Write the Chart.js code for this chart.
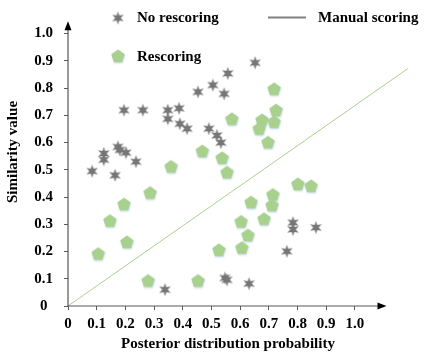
<!DOCTYPE html>
<html>
<head>
<meta charset="utf-8">
<script src="https://cdn.jsdelivr.net/npm/chart.js@4"></script>
<style>
  html, body { margin: 0; padding: 0; background: #fff; }
  #wrap { width: 443px; height: 355px; }
</style>
</head>
<body>
<div id="wrap"><canvas id="chart" width="443" height="355"></canvas></div>
<script>
// --------------------
// DATA
// --------------------
const seriesNames = ["No rescoring", "Rescoring", "Manual scoring"];
const xTitle = "Posterior distribution probability";
const yTitle = "Similarity value";

const xTicks = [0, 0.1, 0.2, 0.3, 0.4, 0.5, 0.6, 0.7, 0.8, 0.9, 1.0];
const xTickLabels = ["0", "0.1", "0.2", "0.3", "0.4", "0.5", "0.6", "0.7", "0.8", "0.9", "1.0"];
const yTicks = [0, 0.1, 0.2, 0.3, 0.4, 0.5, 0.6, 0.7, 0.8, 0.9, 1.0];
const yTickLabels = ["0", "0.1", "0.2", "0.3", "0.4", "0.5", "0.6", "0.7", "0.8", "0.9", "1.0"];

const noRescoreX = [0.084, 0.125, 0.125, 0.164, 0.174, 0.181, 0.202, 0.237, 0.195, 0.261,
  0.348, 0.348, 0.387, 0.390, 0.415, 0.453, 0.505, 0.652, 0.557, 0.544,
  0.491, 0.519, 0.533, 0.338, 0.547, 0.554, 0.631, 0.763, 0.784, 0.784, 0.864];
const noRescoreY = [0.495, 0.560, 0.537, 0.480, 0.584, 0.573, 0.563, 0.530, 0.719, 0.719,
  0.719, 0.687, 0.726, 0.669, 0.651, 0.786, 0.811, 0.893, 0.854, 0.779,
  0.651, 0.626, 0.600, 0.060, 0.103, 0.096, 0.082, 0.201, 0.306, 0.281, 0.288];

const rescoreX = [0.105, 0.146, 0.195, 0.205, 0.286, 0.279, 0.359, 0.453, 0.526, 0.468,
  0.537, 0.554, 0.571, 0.718, 0.725, 0.676, 0.718, 0.666, 0.697, 0.801,
  0.847, 0.714, 0.638, 0.711, 0.603, 0.683, 0.627, 0.606];
const rescoreY = [0.192, 0.313, 0.374, 0.235, 0.416, 0.093, 0.512, 0.093, 0.206, 0.569,
  0.544, 0.491, 0.687, 0.797, 0.719, 0.683, 0.676, 0.651, 0.601, 0.448,
  0.441, 0.409, 0.381, 0.370, 0.310, 0.320, 0.260, 0.214];

const manualX = [0, 1.185];
const manualY = [0, 0.872];

// --------------------
// MARKERS
// --------------------
const GRAY = "#767676";
const GREEN = "#a9d18e";
const FONT = "bold 15px 'Liberation Serif', 'Times New Roman', serif";

function makeStar() {
  const c = document.createElement("canvas");
  c.width = 15; c.height = 15;
  const g = c.getContext("2d");
  g.fillStyle = GRAY;
  g.beginPath();
  for (let i = 0; i < 12; i++) {
    const r = i % 2 === 0 ? 6.6 : 2.8;
    const a = -Math.PI / 2 + i * Math.PI / 6;
    const px = 7.5 + r * Math.cos(a), py = 7.5 + r * Math.sin(a);
    if (i === 0) g.moveTo(px, py); else g.lineTo(px, py);
  }
  g.closePath();
  g.fill();
  return c;
}

function makePentagon() {
  const c = document.createElement("canvas");
  c.width = 18; c.height = 18;
  const g = c.getContext("2d");
  g.shadowColor = "rgba(150,180,225,0.55)";
  g.shadowBlur = 2;
  g.shadowOffsetX = 0.5;
  g.shadowOffsetY = 1;
  g.fillStyle = GREEN;
  g.beginPath();
  for (let i = 0; i < 5; i++) {
    const a = -Math.PI / 2 + i * 2 * Math.PI / 5;
    const px = 9 + 7 * Math.cos(a), py = 9.5 + 7 * Math.sin(a);
    if (i === 0) g.moveTo(px, py); else g.lineTo(px, py);
  }
  g.closePath();
  g.fill();
  return c;
}

const starImg = makeStar();
const pentImg = makePentagon();

const toPoints = (xs, ys) => xs.map((x, i) => ({ x: x, y: ys[i] }));

// --------------------
// AXES, TITLES, LEGEND
// --------------------
const decorations = {
  id: "decorations",
  afterDraw(chart) {
    const ctx = chart.ctx;
    const xs = chart.scales.x, ys = chart.scales.y;
    const x0 = xs.getPixelForValue(0), y0 = ys.getPixelForValue(0);
    const xEnd = xs.getPixelForValue(1.11), yEnd = ys.getPixelForValue(1.045);

    ctx.save();
    ctx.strokeStyle = "#595959";
    ctx.lineWidth = 1.2;
    ctx.beginPath();
    ctx.moveTo(x0, y0); ctx.lineTo(xEnd - 4, y0);
    ctx.moveTo(x0, y0); ctx.lineTo(x0, yEnd + 4);
    ctx.stroke();

    ctx.fillStyle = "#000";
    ctx.beginPath();
    ctx.moveTo(xEnd, y0); ctx.lineTo(xEnd - 9, y0 - 3.5); ctx.lineTo(xEnd - 9, y0 + 3.5);
    ctx.closePath(); ctx.fill();
    ctx.beginPath();
    ctx.moveTo(x0, yEnd); ctx.lineTo(x0 - 3.5, yEnd + 9); ctx.lineTo(x0 + 3.5, yEnd + 9);
    ctx.closePath(); ctx.fill();

    // axis titles
    ctx.font = FONT;
    ctx.fillStyle = "#000";
    ctx.textAlign = "center";
    ctx.textBaseline = "middle";
    ctx.fillText(xTitle, 228, 344);
    ctx.save();
    ctx.translate(13, 152);
    ctx.rotate(-Math.PI / 2);
    ctx.fillText(yTitle, 0, 0);
    ctx.restore();

    // legend
    ctx.drawImage(starImg, 118 - 7.5, 18 - 7.5);
    ctx.drawImage(pentImg, 118 - 9, 56 - 9);
    ctx.strokeStyle = "#808080";
    ctx.lineWidth = 2;
    ctx.beginPath();
    ctx.moveTo(268, 17.5); ctx.lineTo(306, 17.5);
    ctx.stroke();
    ctx.textAlign = "left";
    ctx.fillText(seriesNames[0], 137, 18);
    ctx.fillText(seriesNames[1], 137, 57);
    ctx.fillText(seriesNames[2], 318, 18);
    ctx.restore();
  }
};

// --------------------
// CHART
// --------------------
const ctx = document.getElementById("chart").getContext("2d");

new Chart(ctx, {
  type: "scatter",
  data: {
    datasets: [
      {
        label: seriesNames[2],
        type: "line",
        data: toPoints(manualX, manualY),
        borderColor: GREEN,
        borderWidth: 1,
        pointRadius: 0,
        fill: false,
        clip: false,
        order: 3
      },
      {
        label: seriesNames[0],
        data: toPoints(noRescoreX, noRescoreY),
        pointStyle: starImg,
        order: 2
      },
      {
        label: seriesNames[1],
        data: toPoints(rescoreX, rescoreY),
        pointStyle: pentImg,
        order: 1
      }
    ]
  },
  options: {
    responsive: false,
    animation: false,
    layout: { padding: { top: 11, right: 35, left: 0, bottom: 0 } },
    plugins: {
      legend: { display: false },
      tooltip: { enabled: false }
    },
    scales: {
      x: {
        type: "linear",
        min: 0,
        max: 1.185,
        afterBuildTicks: s => { s.ticks = xTicks.map(v => ({ value: v })); },
        afterFit: s => { s.height = 49; },
        border: { display: false },
        grid: { drawOnChartArea: false, drawTicks: true, tickLength: 4, color: "#595959" },
        ticks: {
          font: { family: "'Liberation Serif', serif", size: 15, weight: "bold" },
          color: "#000",
          padding: 5,
          maxRotation: 0,
          autoSkip: false,
          callback: (v, i) => xTickLabels[i]
        }
      },
      y: {
        type: "linear",
        min: 0,
        max: 1.05,
        afterBuildTicks: s => { s.ticks = yTicks.map(v => ({ value: v })); },
        afterFit: s => { s.width = 68; },
        border: { display: false },
        grid: { drawOnChartArea: false, drawTicks: true, tickLength: 4, color: "#595959" },
        ticks: {
          font: { family: "'Liberation Serif', serif", size: 15, weight: "bold" },
          color: "#000",
          padding: 11,
          crossAlign: "center",
          autoSkip: false,
          callback: (v, i) => yTickLabels[i]
        }
      }
    }
  },
  plugins: [decorations]
});
</script>
</body>
</html>
